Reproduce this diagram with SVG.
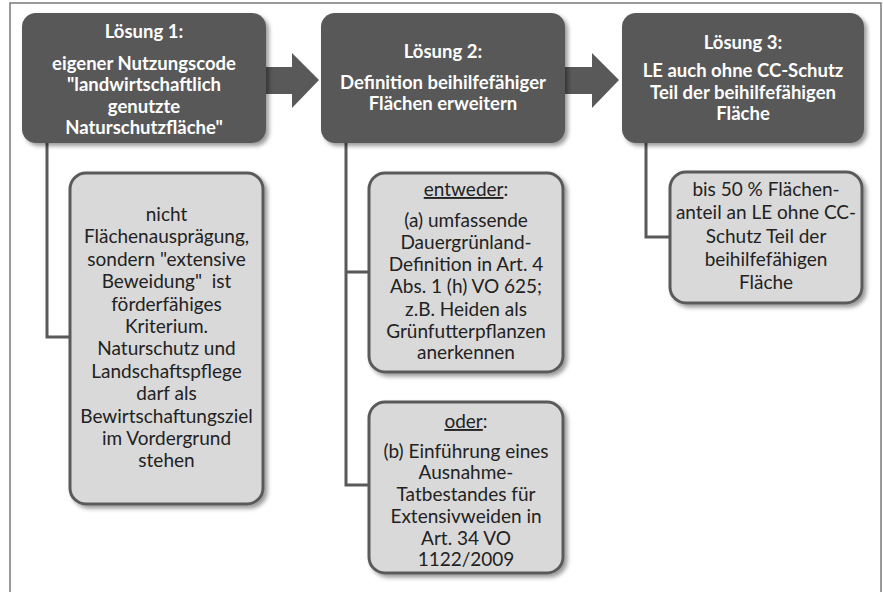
<svg xmlns="http://www.w3.org/2000/svg" width="883" height="592" viewBox="0 0 883 592">
<style>
.main{fill:#595959}
.sub{fill:#d9d9d9;stroke:#5a5a5a;stroke-width:3}
.conn{fill:none;stroke:#595959;stroke-width:3}
.arrow{fill:#595959}
.t{font-family:Lato,"Liberation Sans",sans-serif;text-anchor:middle}
.h{font-size:18.5px;font-weight:bold;fill:#ffffff}
.s{font-size:19px;fill:#222222}
</style>
<defs>
<filter id="sh" x="-10%" y="-10%" width="130%" height="130%">
<feDropShadow dx="3" dy="3" stdDeviation="2" flood-color="#000" flood-opacity="0.4"/>
</filter>
</defs>
<rect x="10" y="3" width="871" height="620" fill="#ffffff" stroke="#7a7a7a" stroke-width="1.5"/>
<g id="arrows">
<path class="arrow" d="M258,67 H292 V53 L319,80 L292,108 V94 H258 Z"/>
<path class="arrow" d="M558,67 H592 V53 L619,80 L592,108 V94 H558 Z"/>
</g>
<g id="connectors">
<path class="conn" d="M47,140 V337 H70"/>
<path class="conn" d="M346,140 V485 H369 M346,272 H369"/>
<path class="conn" d="M646,140 V237 H670"/>
</g>
<g id="loesung1">
<rect class="main" x="22" y="13" width="244" height="130" rx="14" filter="url(#sh)"/>
<text class="t h" x="144" y="38">Lösung 1:</text>
<text class="t h" x="144" y="69.75">eigener Nutzungscode</text>
<text class="t h" x="144" y="91.25">"landwirtschaftlich</text>
<text class="t h" x="144" y="112.75">genutzte</text>
<text class="t h" x="144" y="134.25">Naturschutzfläche"</text>
</g>
<g id="loesung2">
<rect class="main" x="321" y="13" width="244" height="130" rx="14" filter="url(#sh)"/>
<text class="t h" x="443" y="58">Lösung 2:</text>
<text class="t h" x="443" y="88.5">Definition beihilfefähiger</text>
<text class="t h" x="443" y="110">Flächen erweitern</text>
</g>
<g id="loesung3">
<rect class="main" x="622" y="13" width="242" height="130" rx="14" filter="url(#sh)"/>
<text class="t h" x="743" y="49">Lösung 3:</text>
<text class="t h" x="743" y="77">LE auch ohne CC-Schutz</text>
<text class="t h" x="743" y="98.5">Teil der beihilfefähigen</text>
<text class="t h" x="743" y="120">Fläche</text>
</g>
<g id="detail1">
<rect class="sub" x="70" y="173" width="193" height="331" rx="16" filter="url(#sh)"/>
<text class="t s" x="166.5" y="221">nicht</text>
<text class="t s" x="166.5" y="243.4">Flächenausprägung,</text>
<text class="t s" x="166.5" y="265.8">sondern "extensive</text>
<text class="t s" x="166.5" y="288.2">Beweidung"&#160; ist</text>
<text class="t s" x="166.5" y="310.6">förderfähiges</text>
<text class="t s" x="166.5" y="333">Kriterium.</text>
<text class="t s" x="166.5" y="355.4">Naturschutz und</text>
<text class="t s" x="166.5" y="377.8">Landschaftspflege</text>
<text class="t s" x="166.5" y="400.2">darf als</text>
<text class="t s" x="166.5" y="422.6">Bewirtschaftungsziel</text>
<text class="t s" x="166.5" y="445">im Vordergrund</text>
<text class="t s" x="166.5" y="467.4">stehen</text>
</g>
<g id="detail2a">
<rect class="sub" x="369" y="173" width="194" height="199" rx="16" filter="url(#sh)"/>
<text class="t s" x="466" y="196"><tspan text-decoration="underline">entweder</tspan>:</text>
<text class="t s" x="466" y="227">(a) umfassende</text>
<text class="t s" x="466" y="249">Dauergrünland-</text>
<text class="t s" x="466" y="271">Definition in Art. 4</text>
<text class="t s" x="466" y="293">Abs. 1 (h) VO 625;</text>
<text class="t s" x="466" y="316">z.B. Heiden als</text>
<text class="t s" x="466" y="338">Grünfutterpflanzen</text>
<text class="t s" x="466" y="359">anerkennen</text>
</g>
<g id="detail2b">
<rect class="sub" x="369" y="402" width="194" height="171" rx="16" filter="url(#sh)"/>
<text class="t s" x="466" y="428"><tspan text-decoration="underline">oder</tspan>:</text>
<text class="t s" x="466" y="458">(b) Einführung eines</text>
<text class="t s" x="466" y="479">Ausnahme-</text>
<text class="t s" x="466" y="501">Tatbestandes für</text>
<text class="t s" x="466" y="523">Extensivweiden in</text>
<text class="t s" x="466" y="545">Art. 34 VO</text>
<text class="t s" x="466" y="566">1122/2009</text>
</g>
<g id="detail3">
<rect class="sub" x="670" y="172" width="192" height="131" rx="16" filter="url(#sh)"/>
<text class="t s" x="766" y="196">bis 50 % Flächen-</text>
<text class="t s" x="766" y="219">anteil an LE ohne CC-</text>
<text class="t s" x="766" y="243">Schutz Teil der</text>
<text class="t s" x="766" y="266">beihilfefähigen</text>
<text class="t s" x="766" y="289">Fläche</text>
</g>
</svg>
